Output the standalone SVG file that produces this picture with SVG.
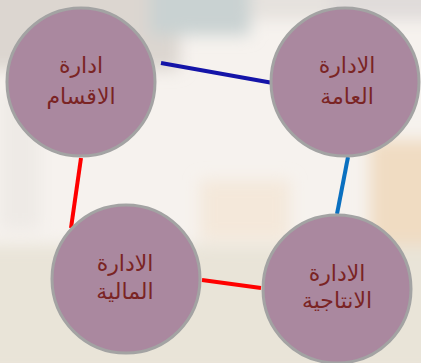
<svg xmlns="http://www.w3.org/2000/svg" width="421" height="363" viewBox="0 0 421 363">
<style>
.node circle{fill:#aa889f;stroke:#a3a3a3;stroke-width:3}
.node text{font-family:"DejaVu Sans",sans-serif;font-size:22px;fill:#7a2424;text-anchor:middle}
.conn line{stroke-width:4;stroke-linecap:butt}
</style>
<defs>
<filter id="blur" x="-20%" y="-20%" width="140%" height="140%"><feGaussianBlur stdDeviation="8"/></filter>
</defs>
<g id="background">
<rect width="421" height="363" fill="#f6f2ee"/>
<g filter="url(#blur)">
<rect x="-20" y="-20" width="200" height="90" fill="#dcd6d0"/>
<rect x="150" y="-20" width="100" height="55" fill="#c9d2d2"/>
<rect x="250" y="-20" width="80" height="40" fill="#e6e2de"/>
<rect x="330" y="-20" width="110" height="40" fill="#e0dcda"/>
<rect x="0" y="90" width="40" height="140" fill="#eeeae6"/>
<rect x="370" y="140" width="70" height="120" fill="#f0dcc2"/>
<rect x="-20" y="245" width="460" height="130" fill="#e9e4d8"/>
<rect x="200" y="180" width="90" height="60" fill="#f4e8da"/>
</g>
</g>
<g id="connectors" class="conn">
<line x1="161" y1="63" x2="273" y2="83" stroke="#1414a8"/>
<line x1="348" y1="157" x2="337" y2="214" stroke="#0a70c0"/>
<line x1="81" y1="158" x2="71" y2="228" stroke="#ff0000"/>
<line x1="202" y1="280" x2="261" y2="288" stroke="#ff0000"/>
</g>
<g id="node-aqsam" class="node">
<circle cx="81" cy="82" r="74"/>
<text x="81" y="73">ادارة</text>
<text x="81" y="104">الاقسام</text>
</g>
<g id="node-amma" class="node">
<circle cx="345" cy="82" r="74"/>
<text x="347" y="73">الادارة</text>
<text x="347" y="104">العامة</text>
</g>
<g id="node-maliya" class="node">
<circle cx="126" cy="279" r="74"/>
<text x="125" y="271">الادارة</text>
<text x="125" y="299">المالية</text>
</g>
<g id="node-intajiya" class="node">
<circle cx="337" cy="289" r="74"/>
<text x="337" y="281">الادارة</text>
<text x="337" y="308">الانتاجية</text>
</g>
</svg>
